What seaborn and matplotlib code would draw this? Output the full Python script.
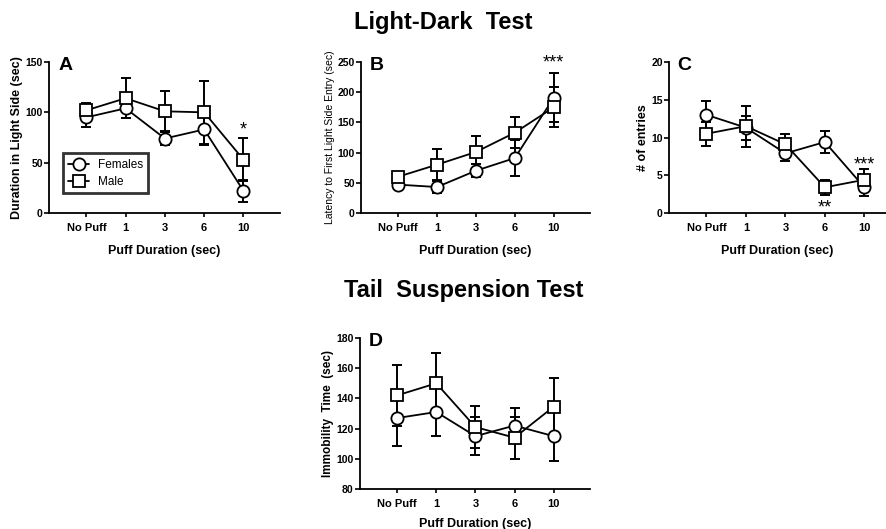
import numpy as np
import pandas as pd
import matplotlib
matplotlib.use('Agg')
import matplotlib.pyplot as plt
from matplotlib.lines import Line2D
import seaborn as sns

sns.set_style('ticks')
plt.rcParams['font.family'] = ['Liberation Sans', 'DejaVu Sans']
for k in ['text.color', 'axes.labelcolor', 'xtick.color', 'ytick.color', 'axes.edgecolor']:
    plt.rcParams[k] = 'black'

# categories on the x axis
durations = ['No Puff', '1', '3', '6', '10']

# A: duration in light side (mean, sem)
a_fem = [95, 104, 74, 83, 22]
a_fem_err = [10, 10, 6, 15, 11]
a_male = [102, 114, 101, 100, 53]
a_male_err = [7.5, 20, 20, 31, 21.5]

# B: latency to first light side entry
b_fem = [47, 43, 70, 91, 191]
b_fem_err = [6, 10, 11, 30, 40]
b_male = [60, 80, 101, 133, 175]
b_male_err = [8, 26, 27, 26, 33]

# C: number of entries
c_fem = [13.0, 11.3, 7.9, 9.4, 3.4]
c_fem_err = [1.9, 1.6, 1.0, 1.5, 1.2]
c_male = [10.5, 11.5, 9.1, 3.4, 4.4]
c_male_err = [1.6, 2.7, 1.4, 1.0, 1.4]

# D: immobility time
d_fem = [127, 131, 115, 122, 115]
d_fem_err = [18.6, 16, 12.5, 11.4, 16.5]
d_male = [142, 150, 121, 114, 134.5]
d_male_err = [20, 20, 14, 14, 19]

fig = plt.figure(figsize=(8.87, 5.29), dpi=100)

W, H = 887, 529
def add_ax(x0, x1, y_top, y_bot):
    return fig.add_axes([x0 / W, 1 - y_bot / H, (x1 - x0) / W, (y_bot - y_top) / H])

axA = add_ax(49, 280, 62, 213)
axB = add_ax(361, 590, 62, 213)
axC = add_ax(669, 886, 62, 213)
axD = add_ax(360, 590, 338, 489)

pos = np.arange(len(durations))
LW = 1.3
MS = 8.8


def panel(ax, fem, fem_err, male, male_err, ylim, yticks, ylabel, letter,
          ylab_bold=True, ylab_size=9, xmax=4.93, xlab_pad=9):
    df = pd.DataFrame({
        'pos': np.concatenate([pos, pos]),
        'value': fem + male,
        'sex': ['Females'] * 5 + ['Male'] * 5,
    })
    for m, e in [(fem, fem_err), (male, male_err)]:
        ax.errorbar(pos, m, yerr=e, fmt='none', ecolor='black',
                    elinewidth=1.4, capsize=3.8, capthick=1.4, zorder=1, clip_on=False)
    sns.lineplot(data=df, x='pos', y='value', style='sex',
                 markers={'Females': 'o', 'Male': 's'}, dashes=False,
                 color='black', lw=LW, markersize=MS, mfc='white',
                 markeredgecolor='black', markeredgewidth=1.3,
                 legend=False, ax=ax, zorder=3, clip_on=False)
    ax.set_xlim(-0.95, xmax)
    ax.set_ylim(*ylim)
    ax.set_yticks(yticks)
    ax.set_xticks(pos)
    ax.set_xticklabels(durations)
    ax.tick_params(axis='x', length=3, width=1.2, pad=4, labelsize=8)
    ax.tick_params(axis='y', length=3.5, width=1.2, pad=1, labelsize=7.5)
    for lab in ax.get_xticklabels() + ax.get_yticklabels():
        lab.set_fontweight('bold')
    ax.set_xlabel('Puff Duration (sec)', fontsize=9, fontweight='bold', labelpad=xlab_pad)
    ax.set_ylabel(ylabel, fontsize=ylab_size,
                  fontweight='bold' if ylab_bold else 'normal', labelpad=1.5)
    sns.despine(ax=ax)
    ax.spines['left'].set_linewidth(1.3)
    ax.spines['bottom'].set_linewidth(1.3)
    ax.text(0.04, 1.03, letter, transform=ax.transAxes, fontsize=14,
            fontweight='bold', va='top', ha='left')


panel(axA, a_fem, a_fem_err, a_male, a_male_err, (0, 150), [0, 50, 100, 150],
      'Duration in Light Side (sec)', 'A')
panel(axB, b_fem, b_fem_err, b_male, b_male_err, (0, 250), [0, 50, 100, 150, 200, 250],
      'Latency to First Light Side Entry (sec)', 'B', ylab_bold=False, ylab_size=7.5)
panel(axC, c_fem, c_fem_err, c_male, c_male_err, (0, 20), [0, 5, 10, 15, 20],
      '# of entries', 'C', xmax=4.55)
panel(axD, d_fem, d_fem_err, d_male, d_male_err, (80, 180), [80, 100, 120, 140, 160, 180],
      'Immobility  Time  (sec)', 'D', ylab_size=8.5, xlab_pad=7)

# significance marks
axA.text(4, 74, '*', ha='center', va='bottom', fontsize=13)
axB.text(4, 234, '***', ha='center', va='bottom', fontsize=13)
axC.text(3, -0.5, '**', ha='center', va='bottom', fontsize=13)
axC.text(4, 5.25, '***', ha='center', va='bottom', fontsize=13)

# legend for panel A
handles = [
    Line2D([], [], color='black', lw=LW, marker='o', markersize=MS, mfc='white',
           markeredgecolor='black', markeredgewidth=1.3),
    Line2D([], [], color='black', lw=LW, marker='s', markersize=MS, mfc='white',
           markeredgecolor='black', markeredgewidth=1.3),
]
leg = axA.legend(handles, ['Females', 'Male'], loc='lower left',
                 bbox_to_anchor=(0.06, 0.13), fontsize=8.5, frameon=True,
                 fancybox=False, edgecolor='black', handlelength=1.8,
                 borderpad=0.45, labelspacing=0.45, handletextpad=0.7,
                 borderaxespad=0)
leg.get_frame().set_linewidth(2.0)

fig.text(0.5, 1 - 22 / H, 'Light-Dark  Test', ha='center', va='center',
         fontsize=17, fontweight='bold')
fig.text(0.5226, 1 - 291 / H, 'Tail  Suspension Test', ha='center', va='center',
         fontsize=17, fontweight='bold')

fig.savefig('out.png', dpi=100)
